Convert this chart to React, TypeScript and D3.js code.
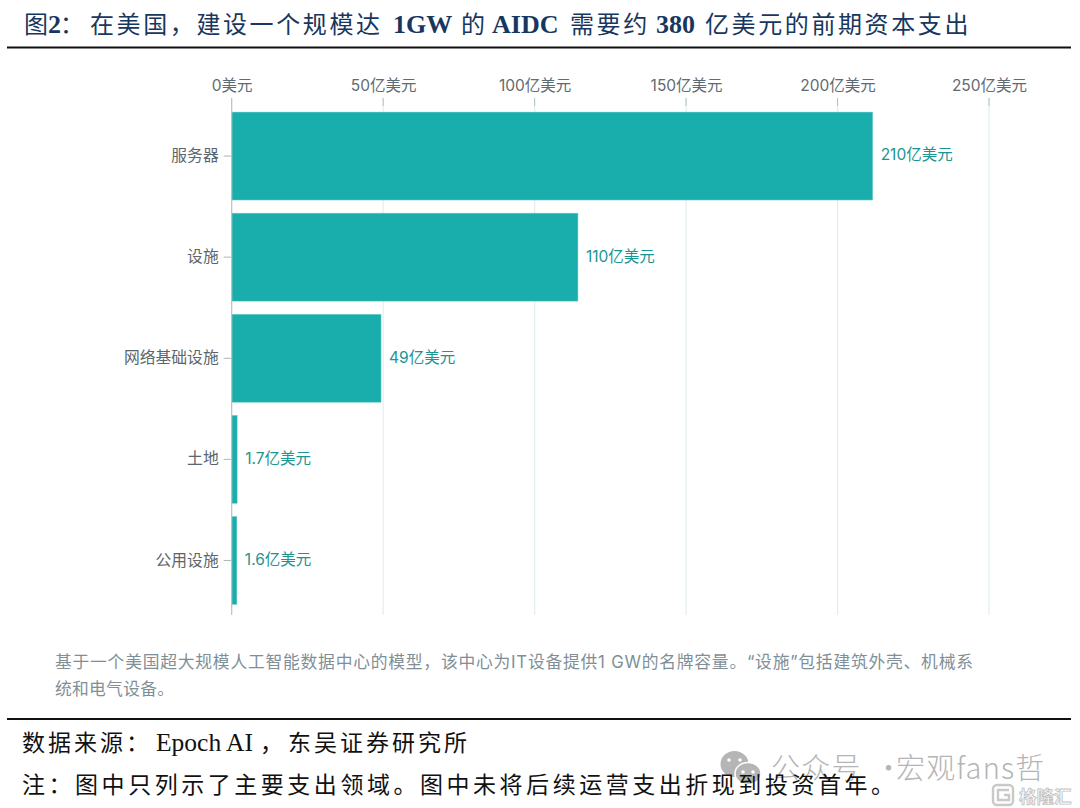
import React, { useEffect, useRef } from 'react';
import * as d3 from 'd3';

const categories = ['服务器', '设施', '网络基础设施', '土地', '公用设施'];
// bar lengths, labels as printed
const barValues = [211.6, 114.3, 49.3, 1.8, 1.7];
const barLabels = ['210亿美元', '110亿美元', '49亿美元', '1.7亿美元', '1.6亿美元'];
const xTicks = [0, 50, 100, 150, 200, 250];
const noteLines = [
  '基于一个美国超大规模人工智能数据中心的模型，该中心为IT设备提供1 GW的名牌容量。“设施”包括建筑外壳、机械系',
  '统和电气设备。',
];
// text, left edge, latin?
const titleParts: [string, number, boolean][] = [
  ['图', 24, false], ['2', 48, true], ['：', 60, false], ['在美国，建设一个规模达', 90, false],
  ['1GW', 393, true], ['的', 461, false], ['AIDC', 492, true], ['需要约', 570, false],
  ['380', 656, true], ['亿美元的前期资本支出', 705, false],
];
const sourceParts: [string, number, boolean][] = [
  ['数据来源：', 22, false], ['Epoch AI', 156, true], ['，', 260, false], ['东吴证券研究所', 288, false],
];
const markParts: [string, number][] = [['公众号', 771], ['·', 874], ['宏观fans哲', 896]];

const W = 1080;
const H = 808;
const TEAL = '#19aeac';
const SANS = 'Inter, "Noto Sans CJK SC", sans-serif';
const SERIF = '"Liberation Serif", "Noto Sans CJK SC", serif';

const App: React.FC = () => {
  const svgRef = useRef<SVGSVGElement>(null);

  useEffect(() => {
    if (!svgRef.current) return;
    const svg = d3.select(svgRef.current);
    svg.selectAll('*').remove();

    const x = d3.scaleLinear().domain([0, 250]).range([231.7, 989]);
    const y = d3.scaleBand().domain(categories).range([105.5, 611]).paddingInner(0.13).paddingOuter(0.065);

    // title
    const title = svg.append('text')
      .attr('y', 33).attr('font-family', SERIF).attr('fill', '#17375e');
    titleParts.forEach(([t, px, latin]) => {
      title.append('tspan')
        .attr('x', px)
        .attr('font-weight', latin ? 700 : 400)
        .attr('font-size', latin ? 26 : 24)
        .attr('letter-spacing', latin ? 0 : 2.6)
        .text(t);
    });
    svg.append('rect').attr('x', 7).attr('y', 46.5).attr('width', 1064).attr('height', 2).attr('fill', '#111');

    // grid lines
    svg.append('g').selectAll('line').data(xTicks.slice(1)).enter().append('line')
      .attr('x1', d => x(d)).attr('x2', d => x(d))
      .attr('y1', 98).attr('y2', 615)
      .attr('stroke', '#e3efee').attr('stroke-width', 1.2);

    // bars
    svg.append('g').selectAll('rect').data(barValues).enter().append('rect')
      .attr('x', x(0))
      .attr('y', (_, i) => y(categories[i]) as number)
      .attr('width', d => x(d) - x(0))
      .attr('height', y.bandwidth())
      .attr('fill', TEAL)
      .attr('stroke', '#6fcfcb').attr('stroke-width', 0.5);

    // top axis
    const top = svg.append('g').attr('transform', 'translate(0,98)')
      .call(d3.axisTop(x).tickValues(xTicks).tickSize(0).tickFormat(d => (+d === 0 ? '0美元' : `${d}亿美元`)));
    top.select('.domain').remove();
    top.selectAll('text')
      .attr('y', -7).attr('dy', 0)
      .attr('font-family', SANS).attr('font-size', 15.5).attr('fill', '#5f6b72');
    svg.append('g').selectAll('line').data(xTicks.slice(1)).enter().append('line')
      .attr('x1', d => x(d)).attr('x2', d => x(d))
      .attr('y1', 98).attr('y2', 106)
      .attr('stroke', '#b4c2c5').attr('stroke-width', 1);

    // left axis
    const left = svg.append('g').attr('transform', `translate(${x(0)},0)`)
      .call(d3.axisLeft(y).tickSize(8).tickPadding(5));
    left.select('.domain').remove();
    left.selectAll('line').attr('stroke', '#a9b7ba').attr('stroke-width', 1);
    left.selectAll('text')
      .attr('font-family', SANS).attr('font-size', 15.8).attr('fill', '#5b666c');
    svg.append('line')
      .attr('x1', x(0)).attr('x2', x(0)).attr('y1', 98).attr('y2', 615)
      .attr('stroke', '#b4c2c5').attr('stroke-width', 1.2);

    // value labels
    svg.append('g').selectAll('text').data(barLabels).enter().append('text')
      .attr('x', (_, i) => x(barValues[i]) + 8)
      .attr('y', (_, i) => (y(categories[i]) as number) + y.bandwidth() / 2 - 1)
      .attr('dy', '0.35em')
      .attr('font-family', SANS).attr('font-size', 15.5).attr('fill', '#1b9492')
      .text(d => d);

    // chart note
    svg.append('g').selectAll('text').data(noteLines).enter().append('text')
      .attr('x', 55).attr('y', (_, i) => 668 + i * 27)
      .attr('font-family', SANS).attr('font-size', 16.8).attr('fill', '#7f8f97')
      .attr('textLength', (_, i) => (i === 0 ? 918 : 119)).attr('lengthAdjust', 'spacing')
      .text(d => d);

    svg.append('rect').attr('x', 7).attr('y', 718).attr('width', 1064).attr('height', 2).attr('fill', '#111');

    // watermark, sits under the footnotes
    const wm = svg.append('g').attr('fill', '#b5b5b5');
    wm.append('ellipse').attr('cx', 734.5).attr('cy', 764).attr('rx', 14).attr('ry', 13);
    wm.append('ellipse').attr('cx', 748).attr('cy', 773.5).attr('rx', 13).attr('ry', 11).attr('stroke', '#fff').attr('stroke-width', 1.5);
    [[729, 760], [740, 760], [743, 772], [753, 772]].forEach(([cx, cy]) => {
      wm.append('circle').attr('cx', cx).attr('cy', cy).attr('r', 1.8).attr('fill', '#fff');
    });
    const mark = wm.append('text').attr('y', 779)
      .attr('font-family', '"Noto Sans CJK SC", sans-serif').attr('font-size', 29).attr('font-weight', 300);
    markParts.forEach(([t, px]) => {
      mark.append('tspan').attr('x', px).attr('letter-spacing', 1.2).text(t);
    });
    const logo = svg.append('g').attr('fill', 'none').attr('stroke', '#c9c9c9').attr('stroke-width', 2.4);
    logo.append('rect').attr('x', 993).attr('y', 785).attr('width', 20).attr('height', 20).attr('rx', 4);
    logo.append('path').attr('d', d3.line()([[1009, 790], [998, 790], [998, 800], [1009, 800], [1009, 795], [1004, 795]]) as string);
    svg.append('text').attr('x', 1019).attr('y', 803)
      .attr('font-family', '"Noto Sans CJK SC", sans-serif').attr('font-size', 17.5).attr('font-weight', 700)
      .attr('fill', '#fff').attr('stroke', '#c4c4c4').attr('stroke-width', 0.9)
      .text('格隆汇');

    // source + note
    const source = svg.append('text').attr('y', 751).attr('font-family', SERIF).attr('fill', '#111');
    sourceParts.forEach(([t, px, latin]) => {
      source.append('tspan')
        .attr('x', px)
        .attr('font-size', latin ? 25.5 : 23)
        .attr('letter-spacing', latin ? 0 : 3)
        .text(t);
    });
    svg.append('text').attr('x', 22).attr('y', 793)
      .attr('font-family', SERIF).attr('font-size', 23).attr('fill', '#111')
      .attr('textLength', 872).attr('lengthAdjust', 'spacing')
      .text('注：图中只列示了主要支出领域。图中未将后续运营支出折现到投资首年。');
  }, []);

  return (
    <svg
      ref={svgRef}
      width={W}
      height={H}
      viewBox={`0 0 ${W} ${H}`}
      style={{ position: 'absolute', left: 0, top: 0, background: '#fff' }}
    />
  );
};

export default App;
